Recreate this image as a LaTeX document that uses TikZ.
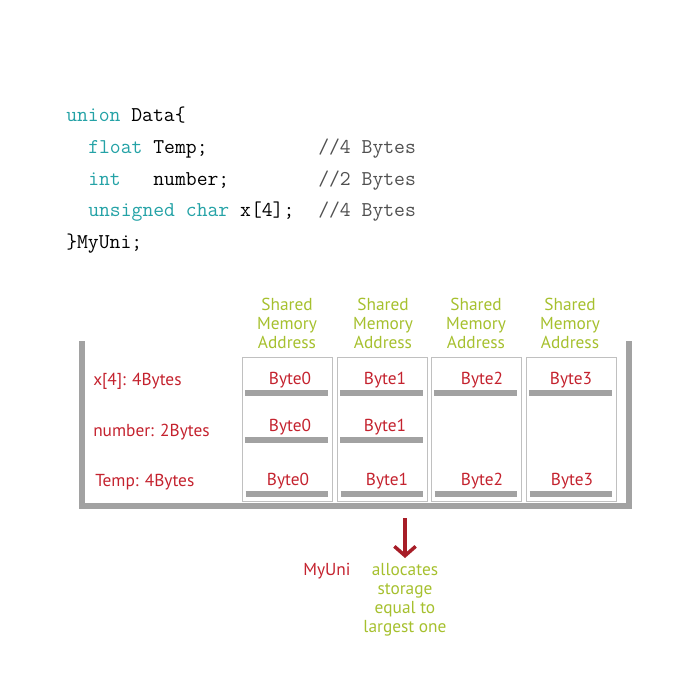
\documentclass[tikz,border=0pt]{standalone}
\usepackage{fontspec}
\setmainfont{PT Sans}
\usetikzlibrary{arrows.meta}
\definecolor{bytered}{RGB}{196,34,46}
\definecolor{addrgreen}{RGB}{166,192,46}
\definecolor{kwteal}{RGB}{36,162,166}
\definecolor{cmtgray}{RGB}{80,80,80}
\definecolor{bargray}{RGB}{162,162,162}
\definecolor{boxgray}{RGB}{192,192,192}
\begin{document}
\begin{tikzpicture}[x=0.75pt, y=-0.75pt,
  code/.style={font=\ttfamily\fontsize{15.8}{18}\selectfont, anchor=base west, inner sep=0pt},
  cmt/.style={code, text=cmtgray},
  lbl/.style={font=\fontsize{13}{14.25}\selectfont, text=bytered, inner sep=0pt},
  addr/.style={font=\fontsize{13}{14.25}\selectfont, text=addrgreen, align=center, inner sep=0pt},
  col/.style={draw=boxgray, line width=0.6pt, minimum width=67.5pt, minimum height=108pt, inner sep=0pt},
  bar/.style={draw=bargray, line width=4pt},
  frame/.style={draw=bargray, line width=4.5pt}]
\useasboundingbox (0,0) rectangle (700,700);
% code of the union
\node[code] (l1) at (66,121) {\textcolor{kwteal}{union} Data\{};
\node[code] (l2) at (88,153) {\textcolor{kwteal}{float} Temp;};
\node[code] (l3) at (88,185) {\textcolor{kwteal}{int}\ \ \ number;};
\node[code] (l4) at (88,216) {\textcolor{kwteal}{unsigned char} x[4];};
\node[code] (l5) at (66,248) {\}MyUni;};
\node[cmt] (c2) at (318,153) {//4 Bytes};
\node[cmt] (c3) at (318,185) {//2 Bytes};
\node[cmt] (c4) at (318,216) {//4 Bytes};
% memory frame
\draw[frame] (82,341) -- (82,506) -- (629,506) -- (629,341);
\node[col] (m0) at (287,429) {};
\node[col] (m1) at (382,429) {};
\node[col] (m2) at (476,429) {};
\node[col] (m3) at (571,429) {};
\foreach \c/\x in {m0/287,m1/383,m2/476,m3/570}
  \node[addr] (a\c) at (\x,323) {Shared\\ Memory\\ Address};
% member rows
\node[lbl, anchor=west] (rx) at (93,381) {x[4]: 4Bytes};
\node[lbl, anchor=west] (rn) at (93,432) {number: 2Bytes};
\node[lbl, anchor=west] (rt) at (95,482) {Temp: 4Bytes};
\node[lbl] (x0) at (290,380) {Byte0};
\node[lbl] (x1) at (385,380) {Byte1};
\node[lbl] (x2) at (482,380) {Byte2};
\node[lbl] (x3) at (571,380) {Byte3};
\node[lbl] (n0) at (290,427) {Byte0};
\node[lbl] (n1) at (385,427) {Byte1};
\node[lbl] (t0) at (288,481) {Byte0};
\node[lbl] (t1) at (387,481) {Byte1};
\node[lbl] (t2) at (482,481) {Byte2};
\node[lbl] (t3) at (572,481) {Byte3};
\foreach \c in {m0,m1,m2,m3} {
  \draw[bar] ([xshift=2.5pt]\c.west |- 0,393) -- ([xshift=-3.5pt]\c.east |- 0,393);
  \draw[bar] ([xshift=3pt]\c.west |- 0,494) -- ([xshift=-3pt]\c.east |- 0,494);
}
\foreach \c in {m0,m1}
  \draw[bar] ([xshift=2.5pt]\c.west |- 0,440) -- ([xshift=-3pt]\c.east |- 0,440);
% result
\node[lbl] (uni) at (327,571) {MyUni};
\node[addr] (alloc) at (405,600) {allocates\\ storage\\ equal to\\ largest one};
\coordinate (drop) at (405,518);
\draw[draw=bytered!85!black, line width=2.6pt, -{Straight Barb[length=7pt, width=16pt]}, shorten >=4pt] (drop) -- (alloc.north);
\end{tikzpicture}
\end{document}
